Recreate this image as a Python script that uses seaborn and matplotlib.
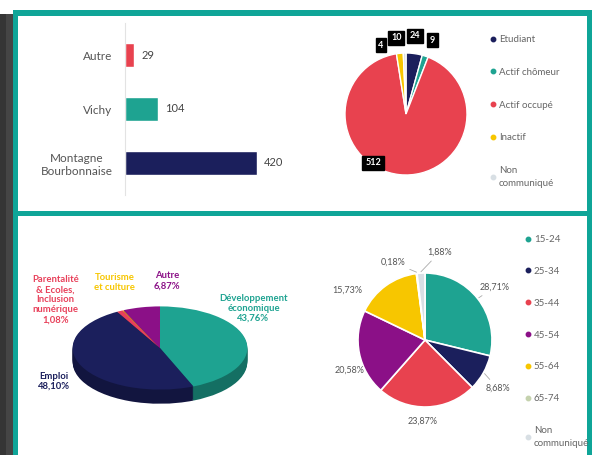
import matplotlib
matplotlib.use('Agg')
import numpy as np
import pandas as pd
import matplotlib.pyplot as plt
import seaborn as sns
from matplotlib.patches import Rectangle
from matplotlib.lines import Line2D
from matplotlib.colors import to_rgb

# ==========================================
# DATA
# ==========================================
origines = ['Autre', 'Vichy', 'Montagne\nBourbonnaise']
origines_n = [29, 104, 420]

statuts = ['Etudiant', 'Actif chômeur', 'Actif occupé', 'Inactif', 'Non\ncommuniqué']
statuts_n = [24, 9, 512, 10, 4]

themes = ['Développement\néconomique', 'Emploi',
          'Parentalité\n& Ecoles,\nInclusion\nnumérique', 'Tourisme\net culture', 'Autre']
themes_pct = [43.76, 48.10, 1.08, 0.19, 6.87]

ages = ['15-24', '25-34', '35-44', '45-54', '55-64', '65-74', 'Non\ncommuniqué']
ages_pct = [28.71, 8.68, 23.87, 20.58, 15.73, 0.18, 1.88]

# couleurs
TEAL = '#1ea391'
NAVY = '#1b1f5c'
RED = '#e8424f'
PINK = '#e8405a'
PURPLE = '#8b1087'
YELLOW = '#f7c600'
LGRAY = '#d8dfe4'
BORDER = '#0fa598'

origines_col = [RED, TEAL, NAVY]
statuts_col = [NAVY, TEAL, RED, YELLOW, LGRAY]
themes_col = [TEAL, NAVY, PINK, YELLOW, PURPLE]
ages_col = [TEAL, NAVY, RED, PURPLE, YELLOW, '#c5d2ae', LGRAY]


def pct(v):
    return f"{v:.2f}".replace('.', ',') + '%'


sns.set_theme(style='white')
plt.rcParams['font.family'] = ['Lato', 'DejaVu Sans']

W, H = 598, 455
fig = plt.figure(figsize=(W / 100, H / 100), dpi=100)
fig.patch.set_facecolor('white')


def box(x0, y0, x1, y1):
    # pixels (origine en haut a gauche) -> fraction de figure
    return [x0 / W, 1 - y1 / H, (x1 - x0) / W, (y1 - y0) / H]


def deco(x0, y0, x1, y1, color, z=5):
    fig.add_artist(Rectangle((x0 / W, 1 - y1 / H), (x1 - x0) / W, (y1 - y0) / H,
                             transform=fig.transFigure, color=color, lw=0, zorder=z))


# cadre : ombre a gauche + bordures turquoise
deco(0, 14, 13, H, '#454545')
deco(0, 14, 6, H, '#353535')
deco(13, 10, 592, 16, BORDER)
deco(13, 10, 18, H, BORDER)
deco(587, 10, 592, H, BORDER)
deco(13, 211, 592, 216, BORDER)

# ==========================================
# 1. BARRES HORIZONTALES
# ==========================================
ax1 = fig.add_axes(box(125, 23, 305, 195))
df1 = pd.DataFrame({'origine': origines, 'n': origines_n})
sns.barplot(data=df1, y='origine', x='n', hue='origine', palette=origines_col,
            orient='h', width=0.45, saturation=1, legend=False, ax=ax1)
ax1.set_xlim(0, 573)
ax1.set_ylim(2.6, -0.6)
ax1.set_xlabel('')
ax1.set_ylabel('')
ax1.set_xticks([])
for s in ['top', 'right', 'bottom']:
    ax1.spines[s].set_visible(False)
ax1.spines['left'].set_color('#e3e3e3')
ax1.spines['left'].set_linewidth(0.8)
ax1.tick_params(axis='y', length=0, pad=9, labelsize=8.5, labelcolor='#555555')
for lbl in ax1.get_yticklabels():
    lbl.set_multialignment('center')
for c in ax1.containers:
    ax1.bar_label(c, padding=5, fontsize=8, color='#444444')
ax1.patch.set_alpha(0)

# ==========================================
# 2. CAMEMBERT STATUTS
# ==========================================
ax2 = fig.add_axes(box(314.5, 22.5, 497.5, 205.5))
ax2.pie(statuts_n, colors=statuts_col, startangle=90, counterclock=False,
        wedgeprops=dict(edgecolor='white', linewidth=1))
ax2.set_xlim(-1.5, 1.5)
ax2.set_ylim(-1.5, 1.5)
lab_pos2 = [(0.15, 1.28), (0.43, 1.21), (-0.54, -0.80), (-0.16, 1.25), (-0.41, 1.13)]
for n, (x, y) in zip(statuts_n, lab_pos2):
    ax2.text(x, y, str(n), ha='center', va='center', color='white', fontsize=6.5,
             fontweight='bold',
             bbox=dict(boxstyle='square,pad=0.3', fc='black', ec='black'))

h2 = [Line2D([], [], marker='o', ls='', markersize=3.2, color=c) for c in statuts_col]
leg2 = fig.legend(h2, statuts, loc='upper left', bbox_to_anchor=(489 / W, 1 - 35 / H),
                  frameon=False, fontsize=7, labelcolor='#666666', labelspacing=2.45,
                  handletextpad=0.2, handlelength=0.8, borderaxespad=0, borderpad=0)
for t in leg2.get_texts():
    t.set_linespacing(1.5)

# ==========================================
# 3. CAMEMBERT 3D THEMES
# ==========================================
ax3 = fig.add_axes(box(29, 244, 291, 452))
depth = 0.34
n_layers = 14
dark_cols = [tuple(v * 0.68 for v in to_rgb(c)) for c in themes_col]
for k in range(n_layers, 0, -1):
    ax3.pie(themes_pct, colors=dark_cols, startangle=90, counterclock=False,
            center=(0, -depth * k / n_layers), wedgeprops=dict(linewidth=0))
ax3.pie(themes_pct, colors=themes_col, startangle=90, counterclock=False,
        wedgeprops=dict(linewidth=0))
ax3.set_aspect('auto')
ax3.set_xlim(-1.5, 1.5)
ax3.set_ylim(-2.5, 2.5)

lab_pos3 = [(1.07, 0.96), (-1.21, -0.80), (-1.20, 1.16), (-0.52, 1.57), (0.08, 1.61)]
for name, v, c, (x, y) in zip(themes, themes_pct, themes_col, lab_pos3):
    txt = name if v < 0.5 else name + '\n' + pct(v)
    ax3.text(x, y, txt, ha='center', va='center', color=c, fontsize=6.8,
             fontweight='bold', linespacing=1.15)

# ==========================================
# 4. CAMEMBERT AGES
# ==========================================
ax4 = fig.add_axes(box(324.5, 239.5, 525.5, 440.5))
wedges4, _ = ax4.pie(ages_pct, colors=ages_col, startangle=90, counterclock=False,
                     wedgeprops=dict(edgecolor='white', linewidth=1.2))
ax4.set_xlim(-1.5, 1.5)
ax4.set_ylim(-1.5, 1.5)

lab_pos4 = [(0.82, 0.79, 'left'), (0.90, -0.72, 'left'), (-0.04, -1.21, 'center'),
            (-1.13, -0.45, 'center'), (-1.16, 0.75, 'center'), (-0.48, 1.16, 'center'),
            (0.22, 1.31, 'center')]
leader = [True, True, False, False, False, True, True]
for w, v, (x, y, ha), ld in zip(wedges4, ages_pct, lab_pos4, leader):
    ang = np.deg2rad((w.theta1 + w.theta2) / 2)
    if ld:
        ax4.annotate(pct(v), xy=(1.02 * np.cos(ang), 1.02 * np.sin(ang)), xytext=(x, y),
                     ha=ha, va='center', fontsize=6.5, color='#555555',
                     arrowprops=dict(arrowstyle='-', color='#aaaaaa', lw=0.6,
                                     shrinkA=1, shrinkB=0))
    else:
        ax4.text(x, y, pct(v), ha=ha, va='center', fontsize=6.5, color='#555555')

h4 = [Line2D([], [], marker='o', ls='', markersize=3.2, color=c) for c in ages_col]
leg4 = fig.legend(h4, ages, loc='upper left', bbox_to_anchor=(524 / W, 1 - 235 / H),
                  frameon=False, fontsize=7, labelcolor='#666666', labelspacing=2.35,
                  handletextpad=0.2, handlelength=0.8, borderaxespad=0, borderpad=0)
for t in leg4.get_texts():
    t.set_linespacing(1.5)

fig.savefig('out.png', dpi=100)
